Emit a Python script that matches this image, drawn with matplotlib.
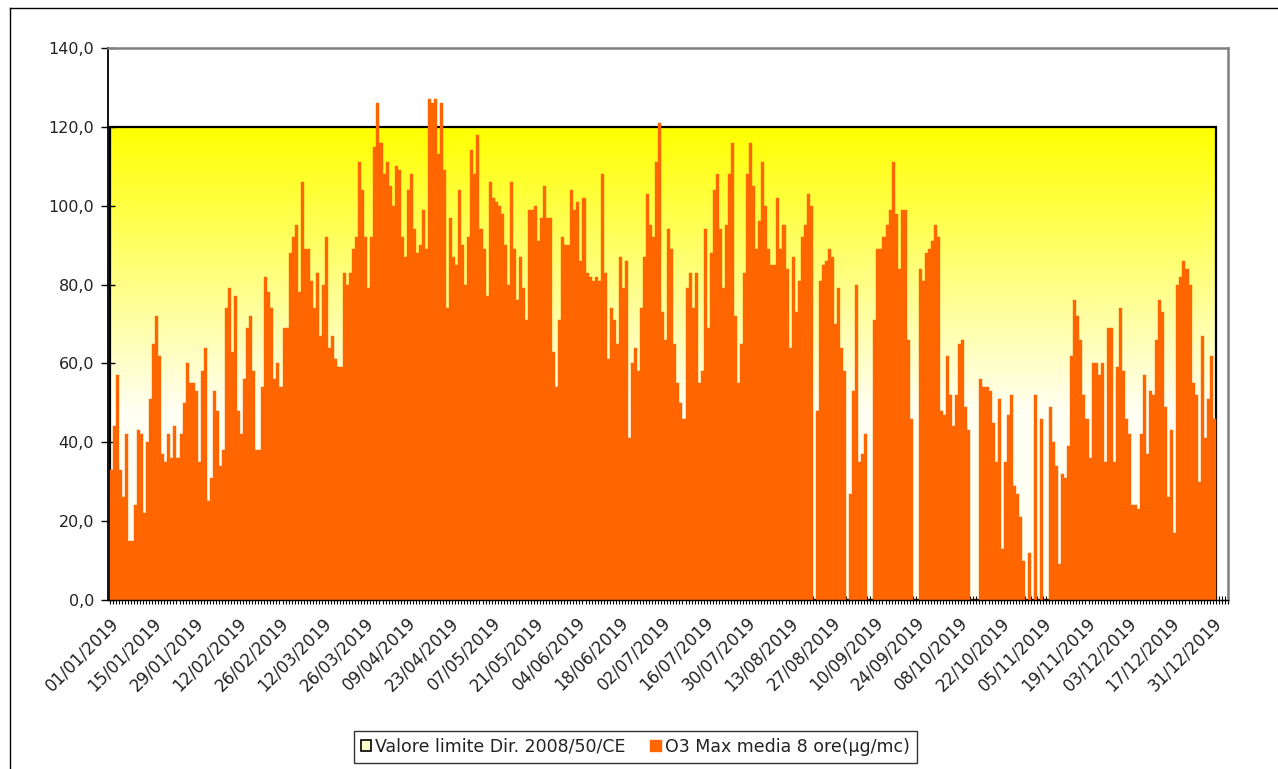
import matplotlib
matplotlib.use('Agg')
import matplotlib.pyplot as plt
from matplotlib.patches import Rectangle, Patch
from matplotlib.lines import Line2D
import numpy as np
import pandas as pd

plt.rcParams['font.family'] = ['DejaVu Sans']

# daily O3 max of the 8-hour running mean, 2019 (ug/m3)
o3 = [
    33, 44, 57, 33, 26, 42, 15, 15, 24, 43, 42, 22, 40, 51,
    65, 72, 62, 37, 35, 42, 36, 44, 36, 42, 50, 60, 55, 55,
    53, 35, 58, 64, 25, 31,
    53, 48, 34, 38, 74, 79, 63, 77, 48, 42, 56, 69, 72, 58, 38, 38, 54, 82, 78,
    74, 56, 60, 54, 69, 69, 88, 92, 95, 78, 106, 89, 89, 81, 74, 83, 67, 80, 92,
    64,
    67, 61, 59, 59, 83, 80, 83, 89, 92, 111, 104, 92, 79, 92,
    115, 126, 116, 108, 111, 105, 100, 110, 109, 92, 87, 104, 108, 94, 88, 90, 99, 89,
    127, 126, 127, 113, 126, 109,
    74, 97, 87, 85, 104, 90, 80, 92, 114, 108, 118, 94, 89, 77, 106, 102, 101, 100,
    98, 90, 80, 106, 89, 76, 87, 79,
    71, 99, 99, 100, 91, 97, 105, 97, 97, 63, 54, 71, 92,
    90, 90, 104, 99, 101, 86, 102, 83, 82, 81, 82, 81, 108, 83, 61, 74, 71, 65, 87,
    79, 86, 41, 60, 64, 58, 74, 87, 103, 95, 92, 111, 121, 73, 66, 94, 89, 65, 55, 50,
    46, 79, 83, 74, 83, 55, 58, 94, 69, 88, 104, 108, 94, 79, 95, 108, 116, 72, 55,
    65, 83, 108, 116, 105, 89, 96, 111, 100, 89, 85, 85, 102, 89, 95, 84, 64, 87, 73,
    81, 92, 95, 103, 100, 0, 48, 81, 85, 86, 89, 87, 70, 79, 64, 58, 0, 27, 53,
    80, 35, 37, 42, 0, 0, 71, 89, 89, 92, 95, 99, 111, 98, 84, 99, 99, 66, 46,
    0, 0, 84, 81, 88, 89, 91, 95, 92, 48, 47, 62, 52, 44, 52, 65, 66, 49, 43, 0,
    0, 0, 56, 54, 54, 53, 45, 35, 51, 13, 35, 47, 52, 29, 27, 21, 10, 0, 12, 0,
    52, 0, 46, 0, 0, 49, 40, 34, 9, 32, 31, 39, 62, 76, 72, 66, 52, 46, 36, 60,
    60, 57, 60, 35, 69, 69, 35, 59, 74, 58, 46, 42, 24, 24, 23,
    42, 57, 37, 53, 52, 66, 76, 73, 49, 26, 43, 17, 80, 82, 86, 84, 80, 55, 52,
    30, 67, 41, 51, 62, 46,
]
limit_value = 120
dates = pd.date_range('2019-01-01', periods=len(o3), freq='D')
tick_step = 14
tick_labels = [d.strftime('%d/%m/%Y') for d in dates[::tick_step]]
y_ticks = [0, 20, 40, 60, 80, 100, 120, 140]
legend_labels = ['Valore limite Dir. 2008/50/CE', 'O3 Max media 8 ore(\u00b5g/mc)']

fig = plt.figure(figsize=(12.78, 7.69), dpi=100)
ax = fig.add_axes([0.0845, 0.2198, 0.8763, 0.7178])

n = len(o3)
x = np.arange(n)

# yellow -> cream gradient up to the limit value
yy = np.linspace(0, limit_value, 256)
blue = np.clip((limit_value - yy) / 72.0, 0, 1) * 0.95
grad = np.ones((256, 1, 3))
grad[:, 0, 2] = blue
ax.imshow(grad, extent=[0, n, 0, limit_value], origin='lower', aspect='auto',
          interpolation='bilinear', zorder=0)
ax.add_patch(Rectangle((0, 0), n, limit_value, fill=False, edgecolor='black',
                       linewidth=1.6, zorder=1))

ax.bar(x, o3, width=1.0, align='edge', color='#FF6600', edgecolor='#FF6600',
       linewidth=0.3, zorder=2)

ax.set_xlim(-0.6, 369.0)
ax.set_ylim(0, 140)

ax.set_yticks(y_ticks)
ax.set_yticklabels([f'{v:.1f}'.replace('.', ',') for v in y_ticks], fontsize=11.5,
                   color='#222222')
ax.tick_params(axis='y', direction='inout', length=10, width=1, pad=5)

ax.set_xticks(x[::tick_step])
ax.set_xticklabels(tick_labels, rotation=45, ha='right', va='top',
                   rotation_mode='anchor', fontsize=12, color='#222222')
ax.set_xticks(np.arange(0, 370), minor=True)
ax.tick_params(axis='x', which='both', direction='inout', length=6, width=0.8, pad=7)

ax.spines['left'].set_color('black')
ax.spines['left'].set_linewidth(1.3)
ax.spines['bottom'].set_color('black')
ax.spines['bottom'].set_linewidth(1.0)
for s in ['top', 'right']:
    ax.spines[s].set_color('#808080')
    ax.spines[s].set_linewidth(1.8)

handles = [Patch(facecolor='#FFFFCC', edgecolor='black', linewidth=1.2),
           Patch(facecolor='#FF6600', edgecolor='#FF6600')]
leg = fig.legend(handles, legend_labels, loc='center', bbox_to_anchor=(0.497, 0.029),
                 ncol=2, fontsize=12.5, frameon=True, fancybox=False, edgecolor='black',
                 handlelength=0.6, handleheight=0.6, handletextpad=0.25,
                 columnspacing=1.4, borderpad=0.4)
leg.get_frame().set_linewidth(1.0)
for t in leg.get_texts():
    t.set_color('#222222')

# outer chart border
fig.add_artist(Line2D([0.0078, 1.0], [0.9896, 0.9896], color='black', linewidth=1.0))
fig.add_artist(Line2D([0.0078, 0.0078], [0.0, 0.9896], color='black', linewidth=1.0))

fig.savefig('out.png', dpi=100)
